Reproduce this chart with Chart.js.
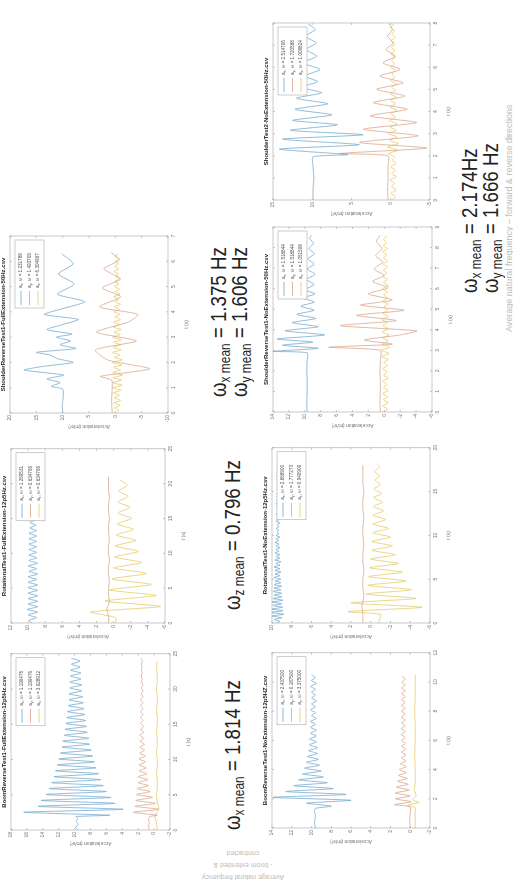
<!DOCTYPE html>
<html>
<head>
<meta charset="utf-8">
<script src="https://cdn.jsdelivr.net/npm/chart.js@4.4.1/dist/chart.umd.min.js"></script>
<style>
  html, body { margin: 0; padding: 0; background: #fff; overflow: hidden; }
  #page {
    position: absolute; left: 0; top: 0; width: 887px; height: 513px;
    transform-origin: 0 0; transform: translate(0, 887px) rotate(-90deg);
    font-family: "Liberation Sans", Arial, sans-serif; background: #fff;
  }
  .omega { position: absolute; font-size: 22px; line-height: 21px; color: #222; white-space: nowrap; transform-origin: 0 0; transform: scaleX(0.85); }
  .omega sub { font-size: 14px; vertical-align: -4px; line-height: 0; }
  .note { position: absolute; color: #bdbdbd; white-space: nowrap; }
</style>
</head>
<body>
<div id="page">
  <div class="omega" style="left:57px; top:222px">ω<sub>x mean</sub> = 1.814 Hz</div>
  <div class="omega" style="left:277px; top:222px">ω<sub>z mean</sub> = 0.796 Hz</div>
  <div class="omega" style="left:490px; top:208px">ω<sub>x mean</sub> = 1.375 Hz<br>ω<sub>y mean</sub> = 1.606 Hz</div>
  <div class="omega" style="left:594px; top:459px">ω<sub>x mean</sub> = 2.174Hz<br>ω<sub>y mean</sub> = 1.666 Hz</div>
  <div class="note" style="left:555px; top:505px; font-size:9px; line-height:9px">Average natural frequency – forward &amp; reverse directions</div>
  <div class="note" style="left:-23px; top:225px; width:90px; height:36px; font-size:7px; line-height:12px; text-align:center; transform:rotate(-90deg)">Average natural frequency<br>- boom extended &amp;<br>contracted</div>
</div>
<script>
// ---- data (t in s, acceleration in m/s^2) ----
const boomFullAx = [[0, 9.6], [0.4, 9.9], [0.8, 9.5], [1.2, 9.8], [1.6, 9.6], [1.9, 9.8]];
const boomFullAxOsc = [5.6, 16.4, 3.9, 14.6, 4.9, 14.2, 5.4, 13.6, 6.0, 13.2, 6.4, 12.9, 6.7, 12.6, 7.0, 12.4, 7.3, 12.2, 7.5, 12.0, 7.7, 11.8, 7.9, 11.6, 8.1, 11.5, 8.2, 11.3, 8.4, 11.2, 8.5, 11.1, 8.6, 11.0, 8.7, 10.9, 8.8, 10.8, 8.9, 10.7, 9.0, 10.7, 9.1, 10.6, 9.1, 10.6, 9.2, 10.5, 9.2, 10.5, 9.3, 10.4, 9.3, 10.4];
const boomFullAy = [[0, 0.6], [0.5, 0.7], [1.0, 0.6], [1.5, 0.7], [1.9, 0.6]];
const boomFullAyOsc = [-0.4, 2.6, -0.6, 2.4, -0.2, 2.3, 0.2, 2.2, 0.5, 2.1, 0.7, 2.0, 0.8, 2.0, 0.9, 1.9, 1.0, 1.9, 1.1, 1.9, 1.1, 1.8, 1.2, 1.8, 1.2, 1.8, 1.3, 1.8, 1.3, 1.7, 1.3, 1.7, 1.4, 1.7, 1.4, 1.7, 1.4, 1.7, 1.4, 1.7, 1.4, 1.6, 1.4, 1.6, 1.4, 1.6, 1.5, 1.6, 1.5, 1.6, 1.5, 1.6, 1.5, 1.6];
const boomFullAz = [-0.4, -0.3, -0.1, -0.6, -0.4, -0.3, -0.4, -0.4, -0.3, -0.4, -0.4, -0.3, -0.4, -0.4, -0.3, -0.4, -0.4, -0.3, -0.4, -0.4, -0.3, -0.4, -0.4, -0.3, -0.4];
const boomFullOmega = ['1.190476', '1.190476', '3.928912'];

const rotFullAx = [9.5, 9.9, 9.0, 10.0, 8.9, 10.1, 8.9, 10.0, 8.9, 10.0, 8.9, 10.0, 8.9, 10.0, 8.9, 10.0, 9.0, 10.0, 8.9, 9.9, 9.0, 10.0, 8.9, 9.9, 9.0, 9.9, 9.0, 9.9, 9.0, 9.9, 9.0, 9.9, 9.0, 9.9, 9.0, 9.8, 9.1, 9.8, 9.1, 9.8];
const rotFullAy = [0.6, 0.6, 0.8, 0.5, 0.6, 0.6, 0.5, 0.6, 0.6, 0.5, 0.6, 0.6, 0.5, 0.6, 0.6, 0.5, 0.6, 0.6, 0.5, 0.6, 0.6, 0.6];
const rotFullAz = [-0.3, -0.2, 2.7, -5.5, 1.0, -5.0, 0.5, -4.4, 0.2, -3.8, 0.0, -3.3, -0.1, -2.9, -0.2, -2.6, -0.3, -2.3, -0.4, -2.1, -0.5, -1.9, -0.5, -1.7, -0.6, -1.6, -0.7];
const rotFullOmega = ['1.269531', '0.634766', '0.634766'];

const shFullAx = [[0, 10.0], [0.3, 10.1], [0.6, 9.9], [0.95, 10.0], [1.05, 12.2], [1.2, 10.5], [1.35, 13.0], [1.5, 9.8], [1.7, 17.3], [1.85, 13.5], [2.0, 8.0], [2.15, 11.0], [2.3, 12.5], [2.4, 15.0], [2.55, 7.5], [2.7, 10.5], [2.85, 8.5], [3.0, 11.2], [3.12, 8.2], [3.3, 13.0], [3.5, 10.0], [3.7, 7.0], [3.9, 13.5], [4.1, 10.5], [4.4, 5.8], [4.7, 11.0], [5.1, 7.8], [5.5, 10.8], [5.9, 8.0], [6.3, 10.2]];
const shFullAy = [[0, 0.6], [0.5, 0.7], [1.0, 0.6], [1.3, 0.7], [1.45, 2.8], [1.75, -6.5], [2.1, 1.5], [2.5, 3.8], [2.85, -4.0], [3.2, 3.6], [3.6, -2.5], [3.9, -4.3], [4.2, 3.0], [4.6, -1.0], [4.95, 2.5], [5.3, -1.0], [5.7, 2.2], [6.05, -0.8], [6.35, 0.8]];
const shFullAz = [-0.2, -0.7, 0.1, -0.9, 0.3, -1.0, 0.2, -0.8, 0.4, -1.1, 0.5, -1.3, 0.6, -1.2, 0.4, -1.4, 0.5, -1.0, 0.3, -1.2, 0.6, -1.3, 0.2, -0.9, 0.5, -1.1, 0.4, -1.0, 0.3, -1.2, 0.5, -0.9, 0.2, -1.1, 0.4, -0.8, 0.3, -1.0, 0.1, -0.9, 0.3, -0.8, 0.2, -1.0, 0.1, -0.7, 0.3, -0.9, 0.0, -0.8, 0.2, -0.7, 0.1, -0.8, 0.0, -0.6, 0.2, -0.7, 0.1, -0.6, 0.0, -0.7, 0.1, -0.5];
const shFullOmega = ['1.231788', '1.493709', '6.304967'];

const boomNoAx = [[0, 9.6], [0.4, 9.7], [0.8, 9.6], [1.2, 9.7], [1.35, 9.6]];
const boomNoAxOsc = [8.0, 10.5, 6.0, 13.9, 6.5, 12.6, 7.8, 11.8, 8.4, 11.3, 8.8, 10.9, 9.0, 10.7, 9.2, 10.5, 9.3, 10.4, 9.4, 10.3, 9.4, 10.2, 9.5, 10.2, 9.5, 10.1, 9.5, 10.1, 9.6, 10.1, 9.5, 10.0, 9.6, 10.1, 9.6, 10.0, 9.5, 10.0, 9.6, 10.0, 9.6, 10.1, 9.5, 10.0, 9.6, 10.0];
const boomNoAy = [[0, 0.0], [0.5, 0.05], [1.0, 0.0], [1.45, 0.0]];
const boomNoAyOsc = [1.6, -0.1, 1.5, 0.0, 1.5, 0.1, 1.4, 0.2, 1.3, 0.3, 1.2, 0.4, 1.1, 0.4, 1.0, 0.45, 0.9, 0.45, 0.9, 0.45, 0.9, 0.5, 0.9, 0.5, 0.9, 0.5, 0.9, 0.5, 0.9, 0.5, 0.9, 0.5, 0.9, 0.5, 0.9, 0.5, 0.9, 0.5, 0.9, 0.5, 0.9, 0.5, 0.85, 0.5, 0.85];
const boomNoAz = [[0, -0.5], [0.5, -0.5], [1.0, -0.5], [1.4, -0.5], [1.55, 0.3], [1.75, -0.9], [1.95, -0.2], [2.2, -0.6], [2.6, -0.4], [3, -0.5], [4, -0.5], [5, -0.45], [6, -0.5], [7, -0.5], [8, -0.45], [9, -0.5], [10, -0.5], [10.5, -0.5]];
const boomNoOmega = ['2.437500', '0.187500', '3.375000'];

const rotNoAx = [9.6, 9.2, 9.8, 9.0, 10.0, 8.8, 10.1, 8.9, 10.0, 8.9, 9.9, 9.0, 10.0, 8.9, 9.9, 9.0, 9.8, 9.0, 9.9, 9.1, 9.8, 9.0, 9.8, 9.1, 9.7, 9.1, 9.8, 9.2, 9.7, 9.1, 9.7, 9.2, 9.8, 9.2, 9.6, 9.1, 9.7, 9.2, 9.6, 9.2, 9.7, 9.3, 9.6, 9.2, 9.6, 9.3, 9.7, 9.3, 9.6, 9.2, 9.6, 9.3, 9.5, 9.3, 9.6, 9.3, 9.5, 9.2, 9.6, 9.3, 9.5, 9.3, 9.6, 9.3, 9.5, 9.3, 9.5, 9.3, 9.6, 9.4, 9.5, 9.3, 9.5, 9.4, 9.5, 9.3, 9.5, 9.4, 9.5, 9.3, 9.5, 9.4, 9.5, 9.4, 9.5, 9.3, 9.5, 9.4, 9.4];
const rotNoAy = [0.8, 0.8, 0.9, 0.7, 0.8, 0.8, 0.7, 0.8, 0.8, 0.7, 0.8, 0.8, 0.7, 0.8, 0.8, 0.7, 0.8, 0.8, 0.8];
const rotNoAz = [[0, -0.8], [0.5, -0.9], [1.0, -1.0], [1.3, 2.3], [1.8, -5.2], [2.3, 2.0], [2.8, -4.6], [3.3, 0.5], [3.8, -4.1], [4.3, 0.3], [4.8, -3.6], [5.3, 0.2], [5.8, -3.2], [6.3, 0.1], [6.8, -2.8], [7.3, 0.0], [7.8, -2.5], [8.3, -0.1], [8.8, -2.2], [9.3, -0.1], [9.8, -2.0], [10.3, -0.2], [10.8, -1.8], [11.3, -0.2], [11.8, -1.5], [12.3, -0.2], [12.8, -1.3], [13.3, -0.3], [13.8, -1.2], [14.3, -0.3], [14.8, -1.1], [15.3, -0.3], [15.8, -1.0], [16.3, -0.4], [16.8, -0.9], [17.3, -0.4], [17.8, -0.9], [18.2, -0.6]];
const rotNoOmega = ['2.868900', '1.777273', '0.940909'];

const shRevAx = [[0, 9.7], [0.5, 9.75], [1, 9.7], [1.5, 9.7], [2, 9.75], [2.5, 9.7], [2.88, 9.7], [2.95, 14.0], [3.1, 8.3], [3.25, 12.8], [3.4, 9.0], [3.55, 13.5], [3.75, 7.5], [3.95, 12.5], [4.15, 8.3], [4.35, 11.6], [4.55, 8.6], [4.75, 11.0], [4.95, 8.8], [5.15, 10.5], [5.35, 8.8], [5.55, 10.2], [5.75, 8.7], [5.95, 10.0], [6.2, 8.8], [6.45, 9.8], [6.7, 8.7], [6.95, 9.7], [7.2, 8.8], [7.45, 9.6], [7.7, 8.8], [7.95, 9.5], [8.2, 8.9], [8.45, 9.4], [8.6, 9.1]];
const shRevAy = [[0, 0.5], [0.5, 0.55], [1, 0.5], [1.5, 0.5], [2, 0.55], [2.5, 0.5], [3.0, 0.5], [3.15, 7.0], [3.3, -1.0], [3.5, 2.5], [3.75, -2.0], [3.95, -4.1], [4.2, 5.5], [4.45, -1.5], [4.7, 3.5], [4.95, -2.5], [5.2, 3.0], [5.45, -1.0], [5.75, 2.0], [6.05, -0.5], [6.35, 1.5], [6.65, 0.0], [6.95, 1.3], [7.3, 0.2], [7.6, 1.1], [7.95, 0.3], [8.3, 1.0], [8.6, 0.5]];
const shRevAz = [0.1, -0.4, 0.2, -0.5, 0.1, -0.4, 0.2, -0.5, 0.1, -0.3, 0.2, -0.5, 0.1, -0.4, 0.2, -0.4, 0.1, -0.5, 0.3, -0.6, 0.4, -0.7, 0.3, -0.5, 0.2, -0.6, 0.3, -0.5, 0.2, -0.4, 0.3, -0.5, 0.2, -0.4, 0.1, -0.5, 0.2, -0.4, 0.1, -0.4, 0.2, -0.5, 0.1, -0.4, 0.2, -0.3, 0.1, -0.4, 0.2, -0.4, 0.1, -0.3, 0.2, -0.4, 0.1, -0.3, 0.1, -0.3];
const shRevOmega = ['1.518844', '1.518844', '1.051508'];

const sh2Ax = [[0, 9.9], [0.5, 9.9], [1.0, 9.8], [1.5, 9.9], [1.95, 9.9], [2.05, 5.5], [2.3, 14.2], [2.5, 4.0], [2.75, 13.8], [2.95, 3.5], [3.15, 12.8], [3.4, 6.8], [3.6, 12.5], [3.85, 7.5], [4.1, 12.2], [4.35, 8.0], [4.6, 12.0], [4.85, 8.8], [5.1, 11.4], [5.35, 9.3], [5.6, 11.0], [5.9, 9.0], [6.2, 11.2], [6.5, 9.4], [6.8, 10.8], [7.1, 9.5], [7.4, 10.9], [7.7, 9.6], [7.95, 10.5]];
const sh2Ay = [[0, 0.35], [0.5, 0.4], [1.0, 0.35], [1.5, 0.35], [2.0, 0.35], [2.1, 6.5], [2.35, -4.6], [2.6, 4.0], [2.9, -3.5], [3.2, 3.5], [3.5, -3.3], [3.8, 2.6], [4.1, -2.1], [4.4, 2.2], [4.7, -1.8], [5.0, 1.8], [5.3, -1.6], [5.6, 1.4], [5.9, -1.2], [6.2, 1.0], [6.5, -0.6], [6.8, 0.6], [7.1, -0.3], [7.4, 0.4], [7.7, -0.2], [7.95, 0.2]];
const sh2Az = [-0.2, -0.6, 0.0, -0.7, -0.1, -0.5, 0.1, -0.7, -0.1, -0.6, 0.0, -0.7, -0.2, -0.5, 0.3, -0.9, 0.4, -1.0, 0.2, -0.8, 0.3, -0.7, 0.1, -0.8, 0.2, -0.6, 0.0, -0.8, 0.1, -0.6, 0.0, -0.7, 0.1, -0.6, -0.1, -0.7, 0.0, -0.5, -0.1, -0.6, 0.0, -0.5, -0.1, -0.6, 0.0, -0.5, -0.1, -0.5, 0.0, -0.6, -0.1, -0.5, 0.0, -0.4];
const sh2Omega = ['2.514706', '1.720588', '1.008824'];

const AXES = ['x', 'y', 'z'];
const COLORS = ['#6fa6cb', '#d8a185', '#e3c860'];
const FONT = '"Liberation Sans", Arial, sans-serif';

// values sampled at a fixed step, turned into [t, v] points
function sampled(vals, t0, dt) {
  return vals.map((v, i) => [+(t0 + i * dt).toFixed(3), v]);
}

// matlab style box with inward ticks
const framePlugin = {
  id: 'frame',
  afterDraw(chart) {
    const {ctx, chartArea: a, scales} = chart;
    ctx.save();
    ctx.strokeStyle = '#a5a5a5';
    ctx.lineWidth = 0.6;
    ctx.strokeRect(a.left, a.top, a.right - a.left, a.bottom - a.top);
    ctx.beginPath();
    scales.x.ticks.forEach(t => {
      const px = scales.x.getPixelForValue(t.value);
      ctx.moveTo(px, a.bottom); ctx.lineTo(px, a.bottom - 2);
      ctx.moveTo(px, a.top); ctx.lineTo(px, a.top + 2);
    });
    scales.y.ticks.forEach(t => {
      const py = scales.y.getPixelForValue(t.value);
      ctx.moveTo(a.left, py); ctx.lineTo(a.left + 2, py);
      ctx.moveTo(a.right, py); ctx.lineTo(a.right - 2, py);
    });
    ctx.stroke();
    ctx.restore();
  }
};

// legend box in the upper right corner: a_x, ω = ...
const omegaLegend = {
  id: 'omegaLegend',
  afterDraw(chart) {
    const {ctx, chartArea: a} = chart;
    const w = 68, h = 29;
    const x0 = a.right - w - 4, y0 = a.top + 5;
    ctx.save();
    ctx.fillStyle = '#fff';
    ctx.fillRect(x0, y0, w, h);
    ctx.strokeStyle = '#9a9a9a';
    ctx.lineWidth = 0.5;
    ctx.strokeRect(x0, y0, w, h);
    chart.data.datasets.forEach((ds, i) => {
      const y = y0 + 6 + i * 8.5;
      ctx.strokeStyle = ds.borderColor;
      ctx.lineWidth = 0.8;
      ctx.beginPath(); ctx.moveTo(x0 + 3, y); ctx.lineTo(x0 + 17, y); ctx.stroke();
      ctx.fillStyle = '#555';
      ctx.textBaseline = 'middle';
      ctx.font = '4.6px ' + FONT;
      ctx.fillText('a', x0 + 20, y);
      const aw = ctx.measureText('a').width;
      ctx.font = '3.4px ' + FONT;
      ctx.fillText(ds.label, x0 + 20 + aw, y + 1.3);
      const sw = ctx.measureText(ds.label).width;
      ctx.font = '4.6px ' + FONT;
      ctx.fillText(', ω = ' + ds.omega, x0 + 20 + aw + sw, y);
    });
    ctx.restore();
  }
};

const page = document.getElementById('page');

function buildChart(spec) {
  const [x0, y0, x1, y1] = spec.frame;
  const L = 24, T = 12, R = 5, B = 22;
  const w = x1 - x0 + L + R, h = y1 - y0 + T + B;
  const canvas = document.createElement('canvas');
  canvas.width = w; canvas.height = h;
  canvas.style.cssText = 'position:absolute;left:' + (x0 - L) + 'px;top:' + (y0 - T) + 'px;width:' + w + 'px;height:' + h + 'px;';
  page.appendChild(canvas);
  const tickFont = {family: FONT, size: 5};
  new Chart(canvas.getContext('2d'), {
    type: 'line',
    data: {
      datasets: spec.series.map((d, i) => ({
        label: AXES[i], omega: spec.omega[i], data: d,
        borderColor: COLORS[i], borderWidth: 0.75, pointRadius: 0, tension: 0.2, fill: false
      }))
    },
    options: {
      responsive: false, animation: false, devicePixelRatio: 1,
      layout: {padding: {left: L - 16, right: R, top: 0, bottom: 0}},
      plugins: {
        legend: {display: false},
        tooltip: {enabled: false},
        title: {
          display: true, text: spec.title, fullSize: false, color: '#222',
          font: {family: FONT, size: 6, weight: 'bold', lineHeight: 1},
          padding: {top: 2, bottom: 4}
        }
      },
      scales: {
        x: {
          type: 'linear', min: spec.x[0], max: spec.x[1],
          afterFit: s => { s.height = B; },
          grid: {display: false, drawTicks: false}, border: {display: false},
          ticks: {stepSize: spec.x[2], font: tickFont, color: '#777', padding: 3, maxRotation: 0, autoSkip: false},
          title: {display: true, text: 't (s)', font: tickFont, color: '#777', padding: {top: 2, bottom: 0}}
        },
        y: {
          min: spec.y[0], max: spec.y[1],
          afterFit: s => { s.width = 16; },
          grid: {display: false, drawTicks: false}, border: {display: false},
          ticks: {stepSize: spec.y[2], font: tickFont, color: '#777', padding: 2, autoSkip: false},
          title: {display: true, text: 'Acceleration (m/s²)', font: tickFont, color: '#777', padding: 0}
        }
      }
    },
    plugins: [framePlugin, omegaLegend]
  });
}

const specs = [
  {title: 'BoomReverseTest1-FullExtension-12p5Hz.csv', frame: [57, 11, 234, 170], x: [0, 25, 5], y: [-2, 18, 2],
   series: [boomFullAx.concat(sampled(boomFullAxOsc, 2.1, 0.42)), boomFullAy.concat(sampled(boomFullAyOsc, 2.1, 0.42)), sampled(boomFullAz, 0, 1)], omega: boomFullOmega},
  {title: 'RotationalTest1-FullExtension-12p5Hz.csv', frame: [264, 11, 439, 165], x: [0, 25, 5], y: [-6, 12, 2],
   series: [sampled(rotFullAx, 0, 0.39), sampled(rotFullAy, 0, 1), sampled(rotFullAz, 0, 0.79)], omega: rotFullOmega},
  {title: 'ShoulderReverseTest1-FullExtension-50Hz.csv', frame: [474, 10, 651, 168], x: [0, 7, 1], y: [-10, 20, 5],
   series: [shFullAx, shFullAy, sampled(shFullAz, 0, 0.1)], omega: shFullOmega},
  {title: 'BoomReverseTest1-NoExtension-12p5HZ.csv', frame: [59, 272, 235, 430], x: [0, 12, 2], y: [-2, 14, 2],
   series: [boomNoAx.concat(sampled(boomNoAxOsc, 1.5, 0.2)), boomNoAy.concat(sampled(boomNoAyOsc, 1.6, 0.2)), boomNoAz], omega: boomNoOmega},
  {title: 'RotationalTest1-NoExtension-12p5Hz.csv', frame: [264, 272, 440, 430], x: [0, 20, 5], y: [-6, 10, 2],
   series: [sampled(rotNoAx, 0, 0.2), sampled(rotNoAy, 0, 1), rotNoAz], omega: rotNoOmega},
  {title: 'ShoulderReverseTest1-NoExtension-50Hz.csv', frame: [475, 273, 660, 432], x: [0, 9, 1], y: [-6, 14, 2],
   series: [shRevAx, shRevAy, sampled(shRevAz, 0, 0.15)], omega: shRevOmega},
  {title: 'ShoulderTest2-NoExtension-50Hz.csv', frame: [687, 273, 864, 430], x: [0, 8, 1], y: [-5, 15, 5],
   series: [sh2Ax, sh2Ay, sampled(sh2Az, 0, 0.15)], omega: sh2Omega}
];

specs.forEach(buildChart);
</script>
</body>
</html>
